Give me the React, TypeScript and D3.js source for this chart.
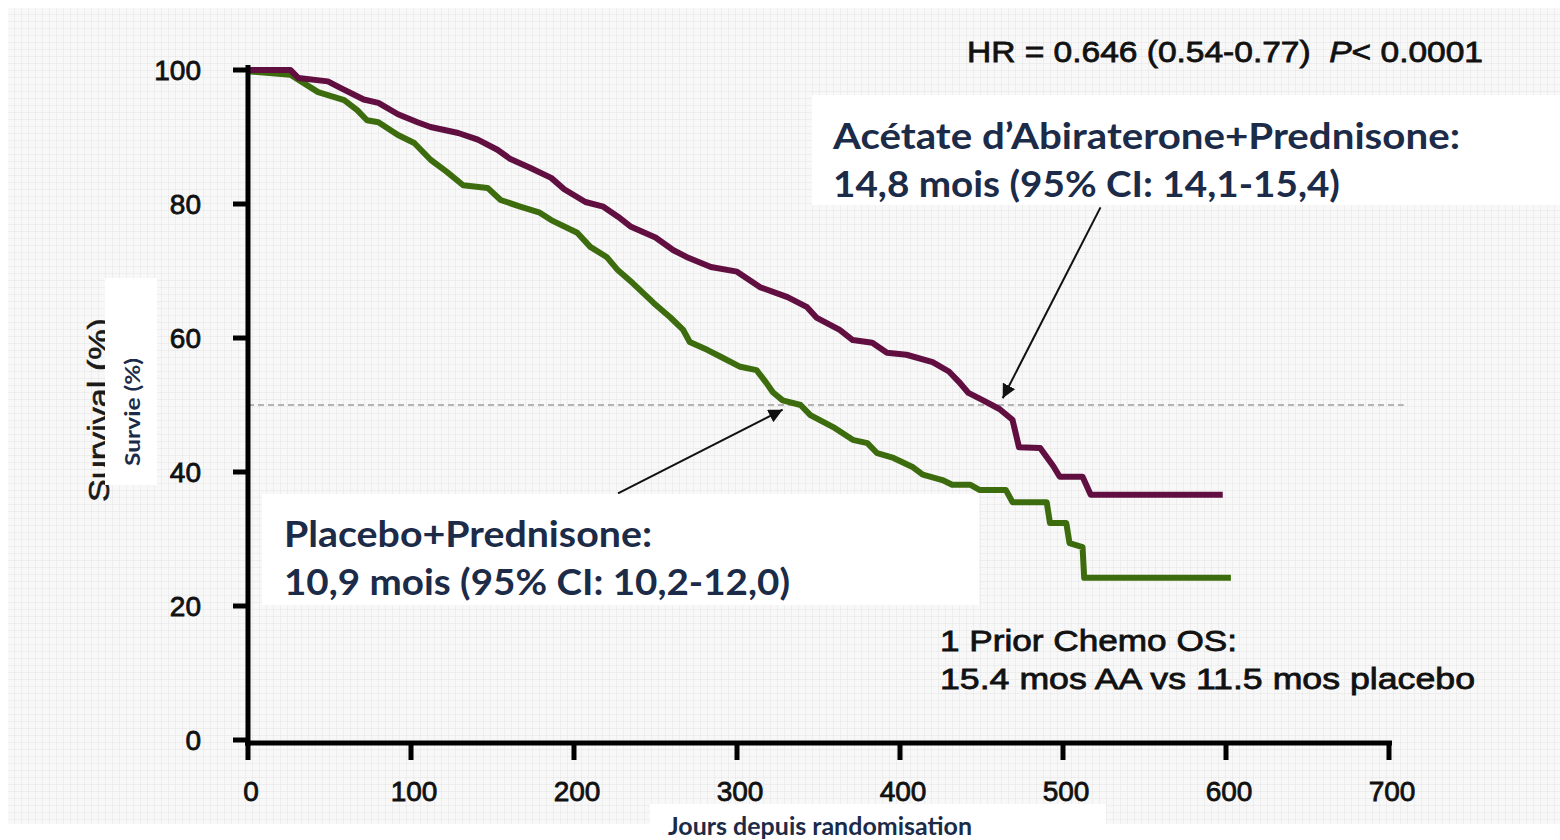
import React from "react";
import * as d3 from "d3";

// ---- Data ----
const xTicks = [0, 100, 200, 300, 400, 500, 600, 700];
const yTicks = [0, 20, 40, 60, 80, 100];

// Abiraterone acetate + prednisone (purple)
const abiDays = [0, 26, 31, 49, 57, 71, 80, 92, 104, 112, 129, 141, 153, 161, 173, 186, 194, 207, 218, 227, 235, 250, 261, 269, 284, 300, 314, 331, 343, 349, 363, 371, 383, 392, 404, 420, 430, 436, 442, 451, 461, 469, 473, 486, 494, 498, 512, 517, 598];
const abiSurv = [100, 100, 98.8, 98.3, 97.3, 95.6, 95.1, 93.4, 92.2, 91.5, 90.6, 89.6, 88.1, 86.7, 85.4, 83.9, 82.2, 80.3, 79.6, 78.1, 76.6, 75.0, 73.1, 72.1, 70.6, 69.9, 67.6, 66.1, 64.6, 63.0, 61.2, 59.7, 59.3, 57.8, 57.5, 56.4, 55.0, 53.5, 51.8, 50.7, 49.4, 47.8, 43.7, 43.6, 40.9, 39.3, 39.3, 36.6, 36.6];

// Placebo + prednisone (green)
const plaDays = [0, 26, 43, 59, 67, 73, 80, 92, 102, 112, 122, 132, 147, 155, 167, 179, 186, 202, 210, 220, 227, 236, 249, 259, 267, 271, 282, 290, 302, 312, 318, 322, 328, 339, 345, 359, 371, 380, 386, 396, 408, 414, 426, 432, 443, 449, 465, 469, 490, 492, 502, 504, 512, 513, 603];
const plaSurv = [99.8, 99.3, 96.7, 95.5, 94.0, 92.5, 92.2, 90.3, 89.1, 86.6, 84.8, 82.8, 82.4, 80.6, 79.6, 78.7, 77.6, 75.7, 73.6, 72.1, 70.1, 68.2, 65.2, 63.1, 61.2, 59.4, 58.2, 57.2, 55.7, 55.2, 53.3, 51.9, 50.7, 50.0, 48.5, 46.7, 44.8, 44.3, 42.8, 42.1, 40.7, 39.6, 38.8, 38.1, 38.1, 37.3, 37.3, 35.5, 35.5, 32.4, 32.4, 29.4, 28.8, 24.2, 24.2];

const medianRef = 50;
const medianRefSpan = [0, 709];

// arrows: [fromDay, fromSurv, toDay, toSurv]
const arrowAbi = [523, 79.5, 463, 51.0];
const arrowPla = [227, 36.8, 328, 49.3];

const hrText = "HR = 0.646 (0.54-0.77)  ";
const pText = "< 0.0001";
const abiLabel = ["Acétate d’Abiraterone+Prednisone:", "14,8 mois (95% CI: 14,1-15,4)"];
const plaLabel = ["Placebo+Prednisone:", "10,9 mois (95% CI: 10,2-12,0)"];
const chemoLabel = ["1 Prior Chemo OS:", "15.4 mos AA vs 11.5 mos placebo"];
const yTitleOrig = "Survival (%)";
const yTitle = "Survie (%)";
const xTitle = "Jours depuis randomisation";

const ARIAL = "'Liberation Sans', Arial, sans-serif";
const CAL = "Lato, 'Open Sans', sans-serif";
const NAVY = "#1b2b48";
const PURPLE = "#600f40";
const GREEN = "#3c6c0d";
const INK = "#111";

const heavy = { stroke: INK, strokeWidth: 0.8, paintOrder: "stroke" as const };

export default function App() {
  const x = d3.scaleLinear().domain([0, 700]).range([248, 1389]);
  const y = d3.scaleLinear().domain([0, 100]).range([740, 70]);
  const line = d3
    .line<[number, number]>()
    .x((d) => x(d[0]))
    .y((d) => y(d[1]));
  const abi: [number, number][] = abiDays.map((d, i) => [d, abiSurv[i]]);
  const pla: [number, number][] = plaDays.map((d, i) => [d, plaSurv[i]]);
  const axisY = 743;

  return (
    <div style={{ position: "absolute", left: 0, top: 0 }}>
      <svg width={1560} height={840} style={{ display: "block" }}>
        <defs>
          <pattern id="grid" width={7} height={7} patternUnits="userSpaceOnUse">
            <rect width={7} height={7} fill="#f8f8f8" />
            <path d="M7 0 L0 0 0 7" stroke="#e4e4e4" strokeWidth={1} fill="none" />
          </pattern>
          <marker id="arrow" markerUnits="userSpaceOnUse" markerWidth={16} markerHeight={14} refX={14} refY={7} orient="auto">
            <path d="M0,0 L14,7 L0,14 Z" fill={INK} />
          </marker>
        </defs>
        <rect x={0} y={0} width={1560} height={840} fill="#fff" />
        <rect x={8} y={8} width={1552} height={816} fill="url(#grid)" />

        {/* median reference line */}
        <line
          x1={x(medianRefSpan[0])}
          x2={x(medianRefSpan[1])}
          y1={y(medianRef)}
          y2={y(medianRef)}
          stroke="#b4b4b4"
          strokeWidth={2}
          strokeDasharray="6 4"
        />

        {/* curves */}
        <path d={line(pla) || ""} fill="none" stroke={GREEN} strokeWidth={6} strokeLinejoin="round" strokeLinecap="butt" />
        <path d={line(abi) || ""} fill="none" stroke={PURPLE} strokeWidth={6} strokeLinejoin="round" strokeLinecap="butt" />

        {/* axes */}
        <line x1={x(0)} x2={x(0)} y1={y(100) - 5} y2={axisY + 3} stroke="#000" strokeWidth={5} />
        <line x1={x(0) - 3} x2={x(700) + 3} y1={axisY} y2={axisY} stroke="#000" strokeWidth={5} />
        {yTicks.map((t) => (
          <g key={"y" + t}>
            <line x1={x(0) - 15} x2={x(0)} y1={y(t)} y2={y(t)} stroke="#000" strokeWidth={5} />
            <text x={201} y={y(t)} dy="0.36em" textAnchor="end" fontFamily={ARIAL} fontSize={28} fill={INK} {...heavy}>
              {t}
            </text>
          </g>
        ))}
        {xTicks.map((t) => (
          <g key={"x" + t}>
            <line x1={x(t)} x2={x(t)} y1={axisY} y2={axisY + 17} stroke="#000" strokeWidth={5} />
            <text x={x(t) + 3} y={801} textAnchor="middle" fontFamily={ARIAL} fontSize={28} fill={INK} {...heavy}>
              {t}
            </text>
          </g>
        ))}

        {/* y title (original, partially covered) */}
        <text
          transform="translate(109,410) rotate(-90)"
          textAnchor="middle"
          fontFamily={ARIAL}
          fontSize={30}
          fill="#1a1a1a"
          textLength={184}
          lengthAdjust="spacingAndGlyphs"
          stroke="#1a1a1a"
          strokeWidth={0.6}
        >
          {yTitleOrig}
        </text>
        <rect x={105} y={278} width={52} height={207} fill="#fff" />
        <text
          transform="translate(140,412) rotate(-90)"
          textAnchor="middle"
          fontFamily={CAL}
          fontWeight={700}
          fontSize={21}
          fill={NAVY}
          textLength={108}
          lengthAdjust="spacingAndGlyphs"
        >
          {yTitle}
        </text>

        {/* HR text */}
        <text x={967} y={62} fontFamily={ARIAL} fontSize={30} fill={INK} textLength={516} lengthAdjust="spacingAndGlyphs" style={{ whiteSpace: "pre" }} {...heavy}>
          {hrText}
          <tspan fontStyle="italic">P</tspan>
          {pText}
        </text>

        {/* arrows */}
        <line
          x1={x(arrowAbi[0])}
          y1={y(arrowAbi[1])}
          x2={x(arrowAbi[2])}
          y2={y(arrowAbi[3])}
          stroke={INK}
          strokeWidth={2}
          markerEnd="url(#arrow)"
        />
        <line
          x1={x(arrowPla[0])}
          y1={y(arrowPla[1])}
          x2={x(arrowPla[2])}
          y2={y(arrowPla[3])}
          stroke={INK}
          strokeWidth={2}
          markerEnd="url(#arrow)"
        />

        {/* Abiraterone label box */}
        <rect x={812} y={95} width={748} height={110} fill="#fff" />
        <text x={833} y={149} fontFamily={CAL} fontWeight={700} fontSize={37} fill={NAVY} textLength={627} lengthAdjust="spacingAndGlyphs">
          {abiLabel[0]}
        </text>
        <text x={833} y={197} fontFamily={CAL} fontWeight={700} fontSize={37} fill={NAVY} textLength={507} lengthAdjust="spacingAndGlyphs">
          {abiLabel[1]}
        </text>

        {/* Placebo label box */}
        <rect x={262} y={494} width={717} height={111} fill="#fff" />
        <text x={284} y={547} fontFamily={CAL} fontWeight={700} fontSize={37} fill={NAVY} textLength={368} lengthAdjust="spacingAndGlyphs">
          {plaLabel[0]}
        </text>
        <text x={284} y={595} fontFamily={CAL} fontWeight={700} fontSize={37} fill={NAVY} textLength={506} lengthAdjust="spacingAndGlyphs">
          {plaLabel[1]}
        </text>

        {/* prior chemo note */}
        <text x={940} y={651} fontFamily={ARIAL} fontSize={30} fill={INK} textLength={297} lengthAdjust="spacingAndGlyphs" {...heavy}>
          {chemoLabel[0]}
        </text>
        <text x={940} y={689} fontFamily={ARIAL} fontSize={30} fill={INK} textLength={535} lengthAdjust="spacingAndGlyphs" {...heavy}>
          {chemoLabel[1]}
        </text>

        {/* x title box */}
        <rect x={650} y={804} width={456} height={36} fill="#fff" />
        <text x={668} y={835} fontFamily={CAL} fontWeight={700} fontSize={25} fill={NAVY} textLength={304} lengthAdjust="spacingAndGlyphs">
          {xTitle}
        </text>
      </svg>
    </div>
  );
}
